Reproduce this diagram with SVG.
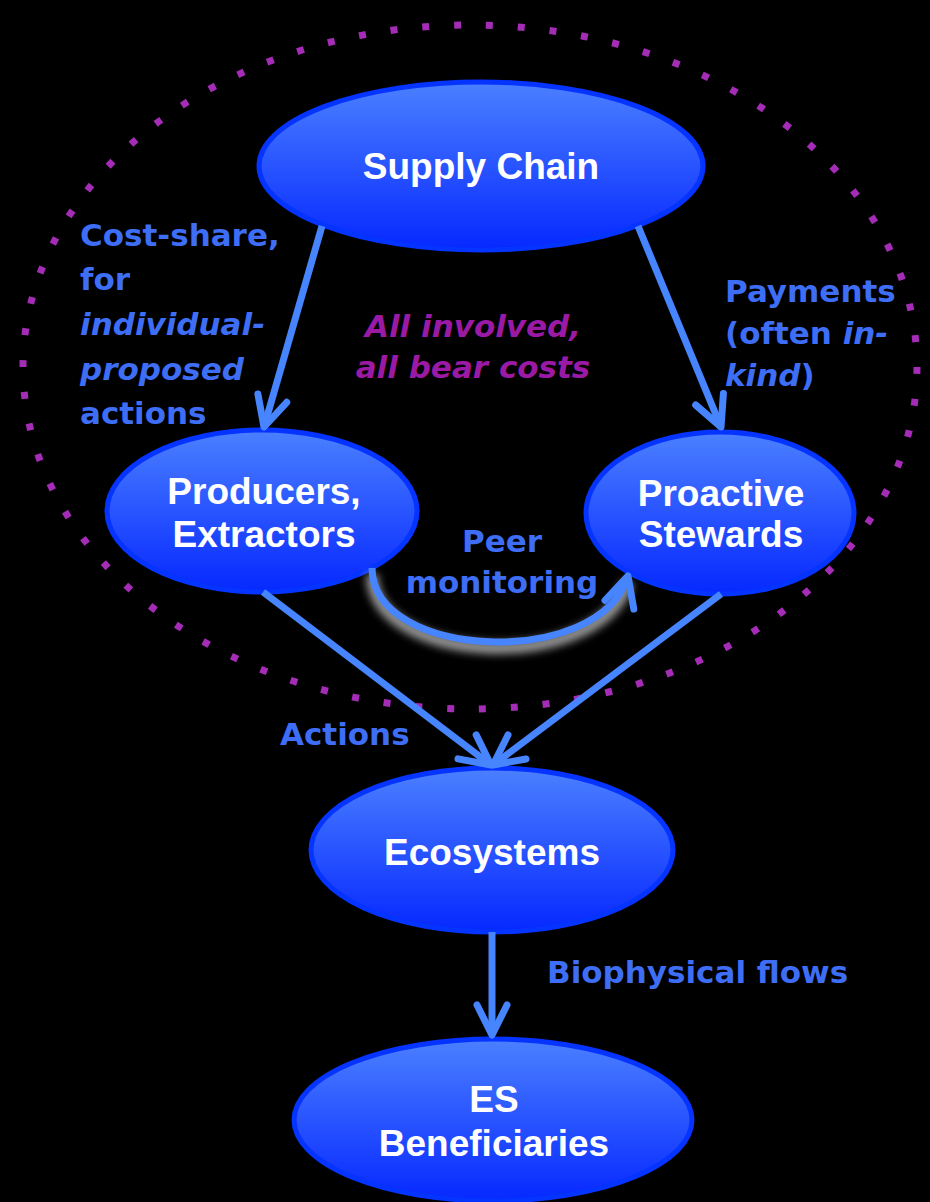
<svg xmlns="http://www.w3.org/2000/svg" width="930" height="1202" viewBox="0 0 930 1202">
<style>
.node{fill:url(#ng);stroke:#0533ff;stroke-width:5}
.nt{font-family:"Liberation Sans",Arial,sans-serif;font-weight:bold;font-size:37px;fill:#ffffff;text-anchor:middle}
.lb{font-family:"DejaVu Sans",Verdana,sans-serif;font-weight:bold;font-size:31px;fill:#3d6ef5}
.it{font-style:italic}
.pu{fill:#9a1aa6}
.arr{fill:none;stroke:#4785ff;stroke-width:7;marker-end:url(#ah)}
</style>
<defs>
<linearGradient id="ng" x1="0" y1="0" x2="0" y2="1">
<stop offset="0" stop-color="#4b80ff"/>
<stop offset="1" stop-color="#0628ff"/>
</linearGradient>
<marker id="ah" markerUnits="userSpaceOnUse" markerWidth="50" markerHeight="50" viewBox="-40 -25 50 50" refX="0" refY="0" orient="auto" overflow="visible">
<path d="M-30,-15 L0,0 L-30,15" fill="none" stroke="#4785ff" stroke-width="7" stroke-linecap="round" stroke-linejoin="round"/>
</marker>
<filter id="glow" x="-20%" y="-50%" width="140%" height="200%">
<feGaussianBlur stdDeviation="4"/>
</filter>
</defs>
<rect x="0" y="0" width="930" height="1202" fill="#000000"/>
<ellipse id="boundary" cx="470" cy="367" rx="447" ry="342" fill="none" stroke="#a52cb6" stroke-width="7" pathLength="2496" stroke-dasharray="7 25"/>
<g id="n-supply"><ellipse class="node" cx="481" cy="166" rx="222" ry="84"/><text class="nt" x="481" y="179">Supply Chain</text></g>
<g id="n-producers"><ellipse class="node" cx="262" cy="511" rx="155" ry="81"/><text class="nt" x="264" y="504">Producers,</text><text class="nt" x="264" y="547">Extractors</text></g>
<g id="n-stewards"><ellipse class="node" cx="720" cy="513" rx="134" ry="81"/><text class="nt" x="721" y="506">Proactive</text><text class="nt" x="721" y="547">Stewards</text></g>
<g id="n-eco"><ellipse class="node" cx="492" cy="850" rx="181" ry="82"/><text class="nt" x="492" y="865">Ecosystems</text></g>
<g id="n-es"><ellipse class="node" cx="493" cy="1120" rx="199" ry="81"/><text class="nt" x="494" y="1112">ES</text><text class="nt" x="494" y="1156">Beneficiaries</text></g>
<g id="connectors">
<path d="M372,574 C372,666 600,676 628,582" fill="none" stroke="#ffffff" stroke-width="12" opacity="0.6" filter="url(#glow)"/>
<path class="arr" d="M322,226 L264,427"/>
<path class="arr" d="M638,226 L721,427"/>
<path class="arr" d="M263,592 L491,765"/>
<path class="arr" d="M721,594 L493,765"/>
<path class="arr" d="M492,932 L492,1035"/>
<path class="arr" d="M372,568 C372,660 600,670 628,576"/>
</g>
<g id="labels">
<text class="lb" x="80" y="246">Cost-share,</text>
<text class="lb" x="80" y="290">for</text>
<text class="lb it" x="80" y="335">individual-</text>
<text class="lb it" x="80" y="380">proposed</text>
<text class="lb" x="80" y="424">actions</text>
<text class="lb" x="725" y="302">Payments</text>
<text class="lb" x="725" y="344">(often <tspan class="it">in-</tspan></text>
<text class="lb" x="725" y="386"><tspan class="it">kind</tspan>)</text>
<text class="lb it pu" x="473" y="337" text-anchor="middle">All involved,</text>
<text class="lb it pu" x="473" y="378" text-anchor="middle">all bear costs</text>
<text class="lb" x="502" y="552" text-anchor="middle">Peer</text>
<text class="lb" x="502" y="593" text-anchor="middle">monitoring</text>
<text class="lb" x="280" y="745">Actions</text>
<text class="lb" x="547" y="983" font-size="32">Biophysical flows</text>
</g>
</svg>
